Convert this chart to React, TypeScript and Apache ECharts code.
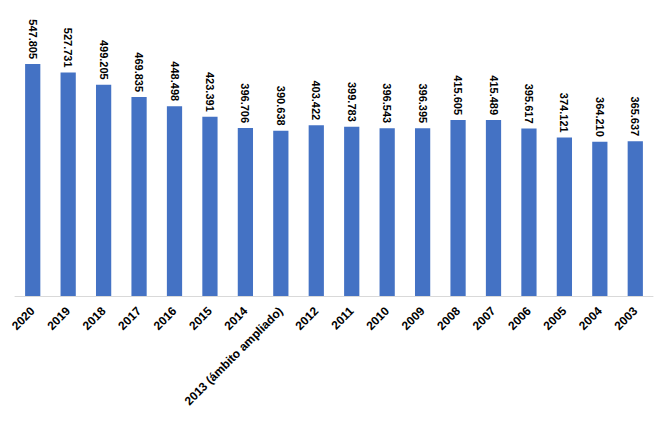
import React, { useEffect, useRef } from "react";
import * as echarts from "echarts";

const categories = [
  "2020", "2019", "2018", "2017", "2016", "2015", "2014",
  "2013 (ámbito ampliado)", "2012", "2011", "2010", "2009",
  "2008", "2007", "2006", "2005", "2004", "2003",
];
const values = [
  547.805, 527.731, 499.205, 469.835, 448.498, 423.391, 396.706,
  390.638, 403.422, 399.783, 396.543, 396.395, 415.605, 415.489,
  395.617, 374.121, 364.21, 365.637,
];

export default function App() {
  const ref = useRef<HTMLDivElement>(null);
  useEffect(() => {
    if (!ref.current) return;
    const chart = echarts.init(ref.current, null, { renderer: "svg" });
    chart.setOption({
      animation: false,
      backgroundColor: "#ffffff",
      grid: { left: 15, right: 13, top: 42, bottom: 141, containLabel: false },
      xAxis: {
        type: "category",
        data: categories,
        axisLine: { show: true, lineStyle: { color: "#d9d9d9", width: 1 } },
        axisTick: { show: false },
        axisLabel: {
          interval: 0,
          rotate: 45,
          margin: 13,
          color: "#000000",
          fontSize: 12,
          fontWeight: "bold",
          fontFamily: "Liberation Sans, Arial, sans-serif",
        },
      },
      yAxis: {
        type: "value",
        min: 0,
        max: 600,
        show: false,
        splitLine: { show: false },
      },
      series: [
        {
          type: "bar",
          data: values,
          barWidth: "43%",
          itemStyle: { color: "#4472C4" },
          label: {
            show: true,
            position: "top",
            rotate: -90,
            align: "right",
            verticalAlign: "middle",
            distance: 5,
            color: "#000000",
            fontSize: 11,
            fontWeight: "bold",
            fontFamily: "Liberation Sans, Arial, sans-serif",
            formatter: (p: any) => Number(p.value).toFixed(3),
          },
        },
      ],
    });
    return () => chart.dispose();
  }, []);
  return (
    <div
      ref={ref}
      style={{ position: "fixed", left: 0, top: 0, width: 666, height: 437 }}
    />
  );
}
